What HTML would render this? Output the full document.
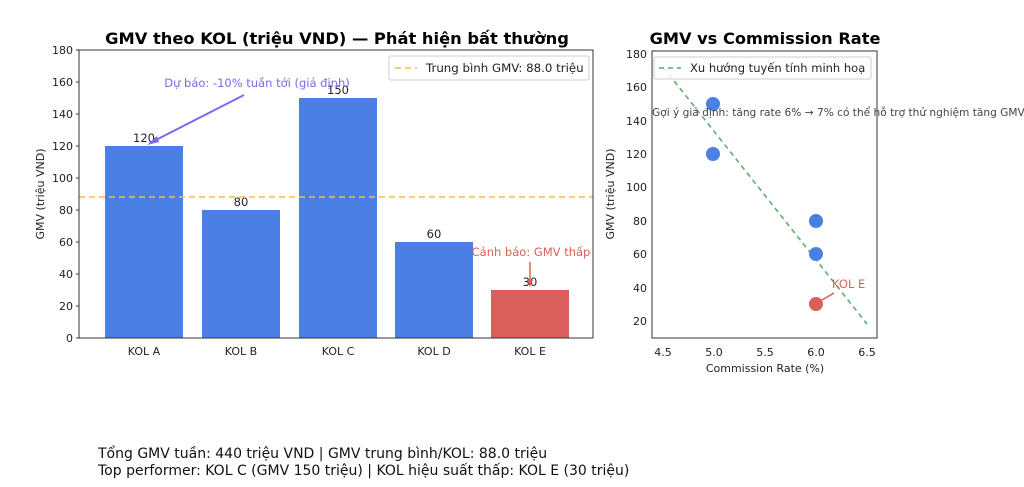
<!DOCTYPE html>
<html><head><meta charset="utf-8"><style>
body{margin:0;background:#fff;width:1024px;height:482px;overflow:hidden}
svg text{font-family:"DejaVu Sans","Liberation Sans",sans-serif}
</style></head><body>
<svg width="1024" height="482" xmlns="http://www.w3.org/2000/svg">
<rect width="1024" height="482" fill="#fff"/>
<!-- Left chart -->
<text x="337" y="44" text-anchor="middle" font-size="16.3" font-weight="bold">GMV theo KOL (triệu VND) — Phát hiện bất thường</text>
<g font-size="11" fill="#222">
<rect x="105" y="146" width="78" height="192" fill="#4a7fe3"/>
<rect x="202" y="210" width="78" height="128" fill="#4a7fe3"/>
<rect x="299" y="98" width="78" height="240" fill="#4a7fe3"/>
<rect x="395" y="242" width="78" height="96" fill="#4a7fe3"/>
<rect x="491" y="290" width="78" height="48" fill="#d9605a"/>
<g font-size="11.5">
<text x="144" y="142" text-anchor="middle">120</text>
<text x="241" y="206" text-anchor="middle">80</text>
<text x="338" y="94" text-anchor="middle">150</text>
<text x="434" y="238" text-anchor="middle">60</text>
<text x="530" y="286" text-anchor="middle">30</text>
</g>
<line x1="79" y1="197" x2="593" y2="197" stroke="#f0c040" stroke-width="1.5" stroke-dasharray="6,4"/>
<rect x="79" y="50" width="514" height="288" fill="none" stroke="#333"/>
<g text-anchor="end">
<text x="73" y="342">0</text><text x="73" y="310">20</text><text x="73" y="278">40</text><text x="73" y="246">60</text><text x="73" y="214">80</text><text x="73" y="182">100</text><text x="73" y="150">120</text><text x="73" y="118">140</text><text x="73" y="86">160</text><text x="73" y="54">180</text>
</g>
<g stroke="#333"><line x1="76" y1="338" x2="79" y2="338"/><line x1="76" y1="306" x2="79" y2="306"/><line x1="76" y1="274" x2="79" y2="274"/><line x1="76" y1="242" x2="79" y2="242"/><line x1="76" y1="210" x2="79" y2="210"/><line x1="76" y1="178" x2="79" y2="178"/><line x1="76" y1="146" x2="79" y2="146"/><line x1="76" y1="114" x2="79" y2="114"/><line x1="76" y1="82" x2="79" y2="82"/><line x1="76" y1="50" x2="79" y2="50"/></g>
<g text-anchor="middle">
<text x="144" y="355">KOL A</text><text x="241" y="355">KOL B</text><text x="338" y="355">KOL C</text><text x="434" y="355">KOL D</text><text x="530" y="355">KOL E</text>
</g>
<text transform="translate(44,194) rotate(-90)" text-anchor="middle">GMV (triệu VND)</text>
<rect x="389" y="56" width="200" height="24" fill="#fff" stroke="#ccc" rx="2"/>
<line x1="395" y1="68" x2="417" y2="68" stroke="#f0c040" stroke-width="1.5" stroke-dasharray="6,4"/>
<text x="426" y="72" font-size="11.8">Trung bình GMV: 88.0 triệu</text>
<text x="257" y="87" text-anchor="middle" fill="#7b68ee" font-size="11.5">Dự báo: -10% tuần tới (giả định)</text>
<line x1="244" y1="95" x2="150" y2="143" stroke="#7b68ee" stroke-width="2"/>
<polygon points="147,145 157,136 159,142" fill="#7b68ee"/>
<text x="531" y="256" text-anchor="middle" fill="#d9605a" font-size="11.5">Cảnh báo: GMV thấp</text>
<line x1="530" y1="262" x2="530" y2="282" stroke="#d9605a" stroke-width="1.5"/>
<polygon points="530,287 527,280 533,280" fill="#d9605a"/>
</g>
<!-- Right chart -->
<text x="765" y="44" text-anchor="middle" font-size="16.2" font-weight="bold">GMV vs Commission Rate</text>
<g font-size="11" fill="#222">
<line x1="663" y1="67" x2="867" y2="324" stroke="#55aa66" stroke-width="1.5" stroke-dasharray="5,4"/>
<circle cx="713" cy="104" r="7" fill="#4a7fe3"/>
<circle cx="713" cy="154" r="7" fill="#4a7fe3"/>
<circle cx="816" cy="221" r="7" fill="#4a7fe3"/>
<circle cx="816" cy="254" r="7" fill="#4a7fe3"/>
<circle cx="816" cy="304" r="7" fill="#d9605a"/>
<text x="832" y="288" fill="#d9605a" font-size="11.5">KOL E</text>
<line x1="834" y1="293" x2="822" y2="300" stroke="#d9605a" stroke-width="1.5"/>
<rect x="652" y="51" width="225" height="287" fill="none" stroke="#333"/>
<rect x="654" y="57" width="217" height="22" fill="#fff" fill-opacity="0.8" stroke="#ccc" rx="2"/>
<line x1="659" y1="68" x2="681" y2="68" stroke="#55aa66" stroke-width="1.5" stroke-dasharray="5,4"/>
<text x="690" y="72" font-size="11.5">Xu hướng tuyến tính minh hoạ</text>
<text x="652" y="116" font-size="10.6" fill="#444">Gợi ý giả định: tăng rate 6% → 7% có thể hỗ trợ thử nghiệm tăng GMV</text>
<g text-anchor="end">
<text x="647" y="58">180</text><text x="647" y="91">160</text><text x="647" y="125">140</text><text x="647" y="158">120</text><text x="647" y="191">100</text><text x="647" y="225">80</text><text x="647" y="258">60</text><text x="647" y="292">40</text><text x="647" y="325">20</text>
</g>
<g text-anchor="middle">
<text x="663" y="356">4.5</text><text x="714" y="356">5.0</text><text x="765" y="356">5.5</text><text x="816" y="356">6.0</text><text x="867" y="356">6.5</text>
</g>
<text x="765" y="372" text-anchor="middle">Commission Rate (%)</text>
<text transform="translate(614,194) rotate(-90)" text-anchor="middle">GMV (triệu VND)</text>
</g>
<g font-size="14" fill="#111">
<text x="98" y="458">Tổng GMV tuần: 440 triệu VND | GMV trung bình/KOL: 88.0 triệu</text>
<text x="98" y="475">Top performer: KOL C (GMV 150 triệu) | KOL hiệu suất thấp: KOL E (30 triệu)</text>
</g>
</svg>
</body></html>
